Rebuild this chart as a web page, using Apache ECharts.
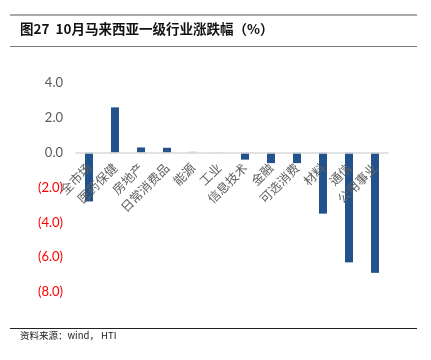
<!DOCTYPE html>
<html><head><meta charset="utf-8">
<script src="https://cdn.jsdelivr.net/npm/echarts@6/dist/echarts.min.js"></script>
<style>html,body{margin:0;padding:0;background:#fff;}#c{width:431px;height:360px;}</style>
</head><body><div id="c"></div>
<script>
var categories = ['全市场','医药保健','房地产','日常消费品','能源','工业','信息技术','金融','可选消费','材料','通信','公用事业'];
var values = [-2.8, 2.6, 0.3, 0.28, 0.06, 0.02, -0.4, -0.6, -0.6, -3.5, -6.3, -6.9];
var titleText = '图27  10月马来西亚一级行业涨跌幅（%）';
var sourceText = '资料来源：wind， HTI';

var chart = echarts.init(document.getElementById('c'), null, {renderer:'canvas'});
chart.setOption({
  animation:false,
  backgroundColor:'#fff',
  grid:{left:76,right:43,top:83,bottom:68,containLabel:false},
  graphic:[
    {type:'line',shape:{x1:10,y1:15,x2:417,y2:15},style:{stroke:'#555',lineWidth:1}},
    {type:'line',shape:{x1:10,y1:46.5,x2:417,y2:46.5},style:{stroke:'#777',lineWidth:1}},
    {type:'line',shape:{x1:10,y1:328.5,x2:417,y2:328.5},style:{stroke:'#222',lineWidth:1}},
    {type:'text',left:20,top:22,style:{text:titleText,font:'bold 13.5px "Noto Sans CJK SC"',fill:'#111'}},
    {type:'text',left:20,top:331,style:{text:sourceText,font:'9.5px "Noto Sans CJK SC"',fill:'#222'}}
  ],
  xAxis:{
    type:'category',data:categories,offset:-139.5,z:10,
    axisLine:{onZero:false,lineStyle:{color:'#d9d9d9',width:1.5}},
    axisTick:{show:false},
    axisLabel:{interval:0,rotate:45,margin:13,fontSize:12.5,color:'#606060',fontFamily:'"Noto Sans CJK SC"'}
  },
  yAxis:{
    type:'value',min:-8,max:4,interval:2,
    axisLine:{show:false},axisTick:{show:false},splitLine:{show:false},
    axisLabel:{margin:13,fontSize:13,fontFamily:'Lato',
      color:function(v){return v<0?'#ff0000':'#595959';},
      formatter:function(v){return v<0?'('+Math.abs(v).toFixed(1)+')':v.toFixed(1);}}
  },
  series:[{type:'bar',data:values,barWidth:8,z:1,
    itemStyle:{color:function(p){return Math.abs(p.value)<0.1?'#b8c8dc':'#22528b';}}}]
});
</script></body></html>
